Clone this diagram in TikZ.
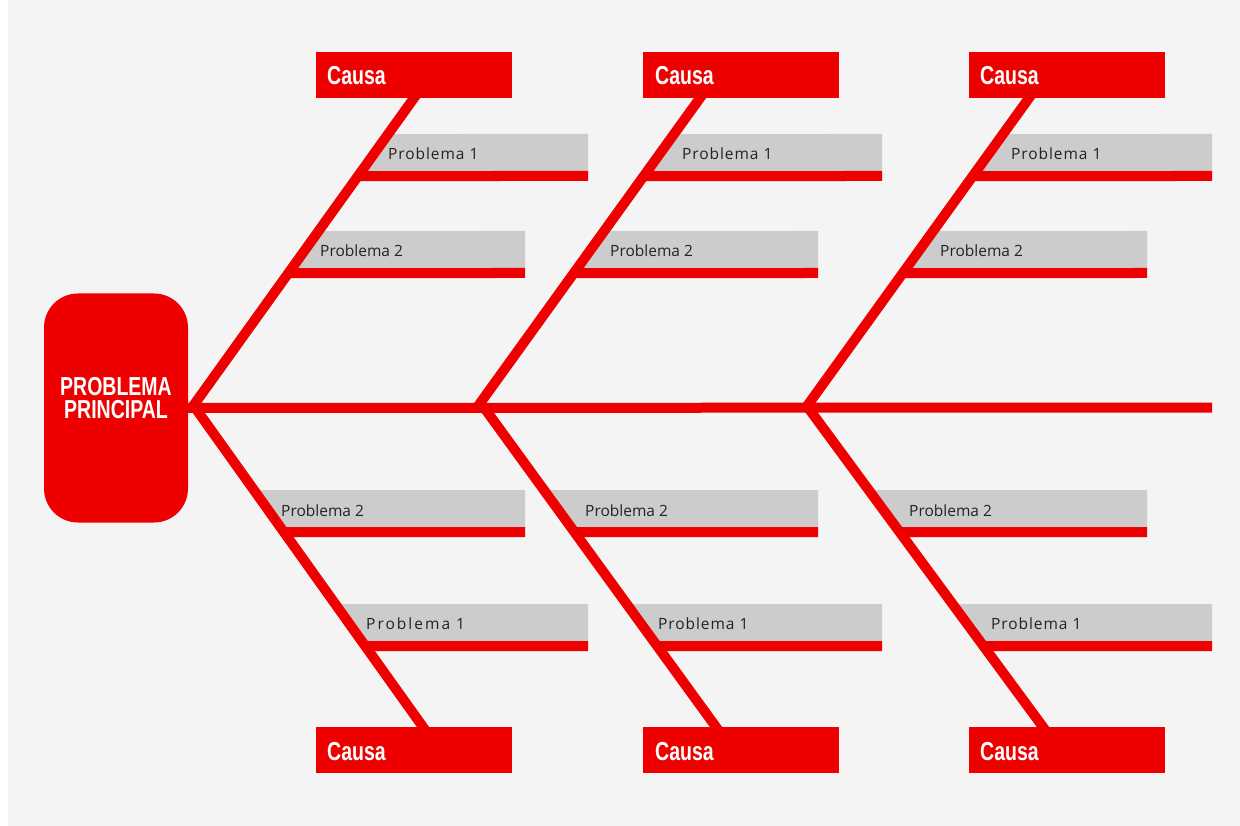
\documentclass[tikz,border=0pt]{standalone}
\usepackage{fontspec}
\setmainfont{Open Sans}
\newfontfamily\causafont[FakeStretch=0.75]{Liberation Sans}
\newfontfamily\lblfontA[LetterSpace=6]{Open Sans}
\newfontfamily\lblfontC[LetterSpace=13]{Open Sans}
\newfontfamily\lblfontB{Open Sans}
\definecolor{fbred}{RGB}{238,0,0}
\definecolor{fbgray}{RGB}{204,204,204}
\definecolor{fbbg}{RGB}{244,244,244}
\definecolor{fbtext}{RGB}{34,34,34}
\tikzset{
  bone/.style={draw=fbred, line width=10pt, line cap=butt},
  headbox/.style={fill=fbred, rounded corners=34pt, minimum width=144pt, minimum height=229pt, inner sep=0pt},
  headtext/.style={text=white, align=center, inner sep=0pt, font=\causafont\bfseries\fontsize{26}{23.5}\selectfont},
  causabox/.style={fill=fbred, minimum width=196pt, minimum height=46pt, inner sep=0pt},
  causatext/.style={text=white, inner sep=0pt, anchor=base west, font=\causafont\bfseries\fontsize{26}{30}\selectfont},
  lblA/.style={text=fbtext, inner sep=0pt, anchor=base west, font=\lblfontA\fontsize{15.5}{18}\selectfont},
  lblC/.style={text=fbtext, inner sep=0pt, anchor=base west, font=\lblfontC\fontsize{15.5}{18}\selectfont},
  lblB/.style={text=fbtext, inner sep=0pt, anchor=base west, font=\lblfontB\fontsize{15.5}{18}\selectfont},
}
\newcommand{\fbbar}[6]{%
  \fill[fbgray] (intersection of #1--#2 and 0,#3--1,#3) -- (#6,#3) -- (#6,#4)
     -- (intersection of #1--#2 and 0,#4--1,#4) -- cycle;
  \fill[fbred] (intersection of #1--#2 and 0,#4--1,#4) -- (#6,#4) -- (#6,#5)
     -- (intersection of #1--#2 and 0,#5--1,#5) -- cycle;
}
\begin{document}
\begin{tikzpicture}[x=1pt,y=-1pt]
\useasboundingbox (0,0) rectangle (1240,826);
\fill[white] (0,0) rectangle (1240,826);
\fill[fbbg] (8,0) rectangle (1240,826);

% bone coordinates
\coordinate (a1u) at (192,407.5);  \coordinate (e1u) at (414,98);
\coordinate (a1l) at (195,407.5);  \coordinate (e1l) at (423,727);
\coordinate (a2u) at (477,407.5);  \coordinate (e2u) at (700,98);
\coordinate (a2l) at (484,407.5);  \coordinate (e2l) at (716,727);
\coordinate (a3u) at (806,407.5);  \coordinate (e3u) at (1029,98);
\coordinate (a3l) at (808,407.5);  \coordinate (e3l) at (1043,727);
\coordinate (spineend) at (1212,407.5);

% problem bars
\fbbar{a1u}{e1u}{134}{171}{181}{588}
\fbbar{a1u}{e1u}{231}{268}{278}{525}
\fbbar{a1l}{e1l}{490}{527}{537}{525}
\fbbar{a1l}{e1l}{604}{641}{651}{588}
\fbbar{a2u}{e2u}{134}{171}{181}{882}
\fbbar{a2u}{e2u}{231}{268}{278}{818}
\fbbar{a2l}{e2l}{490}{527}{537}{818}
\fbbar{a2l}{e2l}{604}{641}{651}{882}
\fbbar{a3u}{e3u}{134}{171}{181}{1212}
\fbbar{a3u}{e3u}{231}{268}{278}{1147}
\fbbar{a3l}{e3l}{490}{527}{537}{1147}
\fbbar{a3l}{e3l}{604}{641}{651}{1212}

% cause boxes
\node[causabox] (c1u) at (414,75) {};
\node[causabox] (c2u) at (740.5,75) {};
\node[causabox] (c3u) at (1067,75) {};
\node[causabox] (c1l) at (414,750) {};
\node[causabox] (c2l) at (740.5,750) {};
\node[causabox] (c3l) at (1067,750) {};

% head
\node[headbox] (head) at (116,408) {};
\node[headtext] (headlbl) at (116,398) {PROBLEMA\\PRINCIPAL};

% spine and bones
\draw[bone] (head.east) -- (spineend);
\draw[bone, shorten >=-6pt] (a1u) -- (e1u);
\draw[bone, shorten >=-6pt] (a1l) -- (e1l);
\draw[bone, shorten >=-6pt] (a2u) -- (e2u);
\draw[bone, shorten >=-6pt] (a2l) -- (e2l);
\draw[bone, shorten >=-6pt] (a3u) -- (e3u);
\draw[bone, shorten >=-6pt] (a3l) -- (e3l);

% cause texts
\node[causatext] (t1u) at (327,85) {Causa};
\node[causatext] (t2u) at (655,85) {Causa};
\node[causatext] (t3u) at (980,85) {Causa};
\node[causatext] (t1l) at (327,760) {Causa};
\node[causatext] (t2l) at (655,760) {Causa};
\node[causatext] (t3l) at (980,760) {Causa};

% problem labels
\node[lblA] (p11u) at (388,160) {Problema 1};
\node[lblB] (p12u) at (320,257) {Problema 2};
\node[lblB] (p12l) at (281,516) {Problema 2};
\node[lblC] (p11l) at (366,629) {Problema 1};
\node[lblA] (p21u) at (682,160) {Problema 1};
\node[lblB] (p22u) at (610,257) {Problema 2};
\node[lblB] (p22l) at (585,516) {Problema 2};
\node[lblA] (p21l) at (658,629) {Problema 1};
\node[lblA] (p31u) at (1011,160) {Problema 1};
\node[lblB] (p32u) at (940,257) {Problema 2};
\node[lblB] (p32l) at (909,516) {Problema 2};
\node[lblA] (p31l) at (991,629) {Problema 1};
\end{tikzpicture}
\end{document}
